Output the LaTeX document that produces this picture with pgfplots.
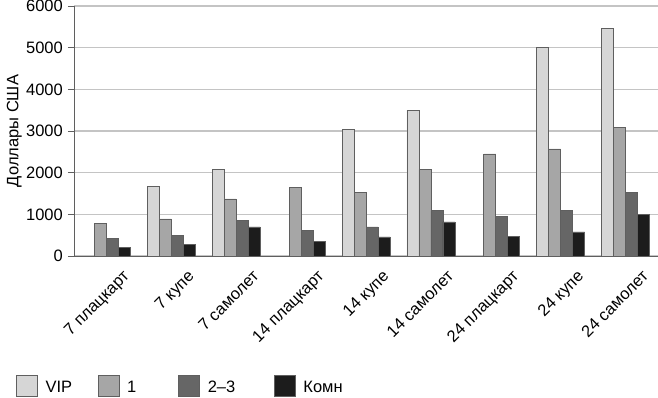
\documentclass[border=0pt]{standalone}
\usepackage{fontspec}
\setmainfont{Liberation Sans}
\usepackage{pgfplots}
\pgfplotsset{compat=1.18}
\definecolor{cvip}{RGB}{214,214,214}
\definecolor{cone}{RGB}{166,166,166}
\definecolor{ctwo}{RGB}{102,102,102}
\definecolor{ckom}{RGB}{28,28,28}
\definecolor{gridc}{RGB}{196,196,196}
\definecolor{edgec}{RGB}{95,95,95}
\begin{document}
\fontsize{16.5bp}{20bp}\selectfont
\begin{tikzpicture}
\begin{axis}[
  scale only axis,
  width=584bp, height=250bp,
  ybar=0pt, bar width=12bp,
  xmin=-0.5, xmax=8.5,
  ymin=0, ymax=6000,
  axis x line=bottom, axis y line=left,
  axis line style={-, draw=edgec, line width=0.8bp},
  xtick={0,...,8},
  xticklabels={7 плацкарт,7 купе,7 самолет,14 плацкарт,14 купе,14 самолет,24 плацкарт,24 купе,24 самолет},
  x tick style={draw=none},
  extra x ticks={-0.5,0.5,...,8.5},
  extra x tick labels={},
  extra x tick style={major tick length=5bp, tick align=outside, tick style={draw=edgec, line width=0.8bp}},
  xticklabel style={rotate=45, anchor=north east, inner sep=1bp, xshift=5bp, yshift=-17bp},
  ytick={0,1000,...,6000},
  ytick align=outside, major tick length=6bp,
  y tick style={draw=edgec, line width=0.8bp},
  yticklabel style={inner sep=1bp, xshift=-4bp},
  /pgf/number format/1000 sep={},
  /pgf/number format/assume math mode=true,
  ymajorgrids,
  major grid style={draw=gridc, line width=1.2bp},
  ylabel={Доллары США},
  ylabel style={inner sep=0pt, yshift=3bp},
  every axis plot/.append style={draw=edgec, line width=0.6bp},
  legend columns=4,
  legend style={at={(axis description cs:-0.0993,-0.564)}, anchor=south west,
    draw=none, fill=none, inner sep=0pt, outer sep=0pt,
    nodes={inner sep=0pt, anchor=base west},
    /tikz/every odd column/.append style={column sep=8bp},
    /tikz/every even column/.append style={column sep=0bp}},
  legend image code/.code={\draw[#1] (0bp,-4bp) rectangle (21bp,17bp);},
]
\addplot[fill=cvip] coordinates {(1,1670) (2,2080) (4,3030) (5,3500) (7,5010) (8,5460)};
\addplot[fill=cone] coordinates {(0,780) (1,890) (2,1370) (3,1650) (4,1520) (5,2080) (6,2450) (7,2570) (8,3080)};
\addplot[fill=ctwo] coordinates {(0,420) (1,490) (2,850) (3,620) (4,700) (5,1090) (6,950) (7,1090) (8,1520)};
\addplot[fill=ckom] coordinates {(0,210) (1,280) (2,700) (3,350) (4,460) (5,820) (6,480) (7,580) (8,1000)};
\addlegendentry{\makebox[52bp][l]{VIP}}
\addlegendentry{\makebox[51bp][l]{1}}
\addlegendentry{\makebox[66bp][l]{2–3}}
\addlegendentry{Комн}
\end{axis}
\pgfresetboundingbox
\path (current axis.south west) ++(-74bp,-142bp) rectangle ++(658bp,398bp);
\end{tikzpicture}
\end{document}
